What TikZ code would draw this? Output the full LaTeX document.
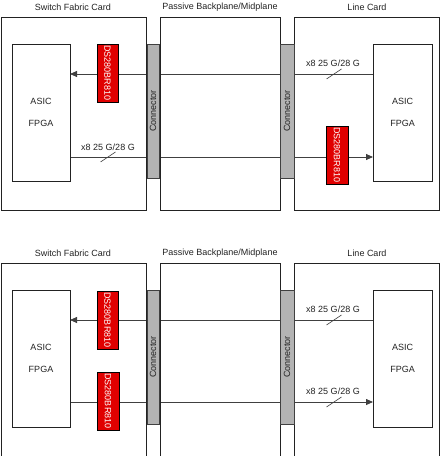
\documentclass[tikz,border=0pt]{standalone}
\usepackage{fontspec}
\setmainfont{Liberation Sans}
\usetikzlibrary{arrows.meta,backgrounds}
\definecolor{chipred}{HTML}{E00000}
\definecolor{conngray}{HTML}{B3B3B3}
\definecolor{linegray}{HTML}{404040}
\definecolor{inkc}{HTML}{222222}
\tikzset{
  every node/.style={font=\fontsize{9bp}{11bp}\selectfont, text=inkc, inner sep=0pt, outer sep=0pt},
  cardbox/.style={draw=inkc, line width=0.8bp, minimum height=193bp},
  chipbox/.style={draw=inkc, line width=0.8bp, minimum height=137bp, align=center},
  connbox/.style={draw=linegray, fill=conngray, line width=0.6bp, rotate=90, minimum width=134bp},
  redbox/.style={draw=black, fill=chipred, line width=0.8bp, rotate=-90, minimum width=58bp, text=white},
  sig/.style={draw=linegray, line width=0.8bp},
  sigarrow/.style={sig, -{Triangle[length=7bp,width=6bp]}},
  slash/.style={draw=linegray, line width=0.6bp},
  buslbl/.style={},
}
\newcommand{\chiptext}{ASIC\\[11bp]FPGA}
\begin{document}
\begin{tikzpicture}[x=1bp,y=-1bp]
\useasboundingbox (0,0) rectangle (440,456);

% ---------------- top diagram ----------------
\node[cardbox, minimum width=145bp] (tsfc) at (73.5,113.5) {};
\node[cardbox, minimum width=120bp] (tbp) at (220,113.5) {};
\node[cardbox, minimum width=145bp] (tlc) at (366.5,113.5) {};
\node at (73,7) (tsfclbl) {Switch Fabric Card};
\node at (220,7) (tbplbl) {Passive Backplane/Midplane};
\node at (367,7) (tlclbl) {Line Card};
\node[chipbox, minimum width=58bp] (tasicL) at (41,112.5) {\chiptext};
\node[chipbox, minimum width=59bp] (tasicR) at (402.5,112.5) {\chiptext};
\node[connbox, minimum height=12bp] (tconnL) at (153,111) {Connector};
\node[connbox, minimum height=14bp] (tconnR) at (287,111) {Connector};
\node[redbox, minimum height=21bp] (tredL) at (107.5,73) {DS280BR810};
\node[redbox, minimum height=22bp] (tredR) at (337,155) {DS280BR810};
\begin{pgfonlayer}{background}
  \coordinate (ta1) at (tasicR.west |- 0,74);
  \coordinate (ta2) at (tasicL.east |- 0,74);
  \coordinate (tb1) at (tasicL.east |- 0,157);
  \coordinate (tb2) at (tasicR.west |- 0,157);
  \draw[sigarrow] (ta1) -- (ta2);
  \draw[sigarrow] (tb1) -- (tb2);
\end{pgfonlayer}
\node at (333,63) (tbusR) {x8 25 G/28 G};
\draw[slash] (334,74) ++(-7.5,5) -- ++(15,-10);
\node at (108,147) (tbusL) {x8 25 G/28 G};
\draw[slash] (108,157) ++(-7.5,5) -- ++(15,-10);

% ---------------- bottom diagram ----------------
\begin{scope}[shift={(0,246)}]
\node[cardbox, minimum width=145bp] (bsfc) at (73.5,113.5) {};
\node[cardbox, minimum width=120bp] (bbp) at (220,113.5) {};
\node[cardbox, minimum width=145bp] (blc) at (366.5,113.5) {};
\node at (73,7) (bsfclbl) {Switch Fabric Card};
\node at (220,7) (bbplbl) {Passive Backplane/Midplane};
\node at (367,7) (blclbl) {Line Card};
\node[chipbox, minimum width=58bp] (basicL) at (41,112.5) {\chiptext};
\node[chipbox, minimum width=59bp] (basicR) at (402.5,112.5) {\chiptext};
\node[connbox, minimum height=12bp] (bconnL) at (153,111) {Connector};
\node[connbox, minimum height=14bp] (bconnR) at (287,111) {Connector};
\node[redbox, minimum height=21bp] (bredL1) at (107.5,74) {DS280BR810};
\node[redbox, minimum height=22bp] (bredL2) at (108,155) {DS280BR810};
\begin{pgfonlayer}{background}
  \coordinate (ba1) at (basicR.west |- 0,74);
  \coordinate (ba2) at (basicL.east |- 0,74);
  \coordinate (bb1) at (basicL.east |- 0,156);
  \coordinate (bb2) at (basicR.west |- 0,156);
  \draw[sigarrow] (ba1) -- (ba2);
  \draw[sigarrow] (bb1) -- (bb2);
\end{pgfonlayer}
\node at (333,63) (bbusR1) {x8 25 G/28 G};
\draw[slash] (334,74) ++(-7.5,5) -- ++(15,-10);
\node at (333,145) (bbusR2) {x8 25 G/28 G};
\draw[slash] (334,156) ++(-7.5,5) -- ++(15,-10);
\end{scope}
\end{tikzpicture}
\end{document}
